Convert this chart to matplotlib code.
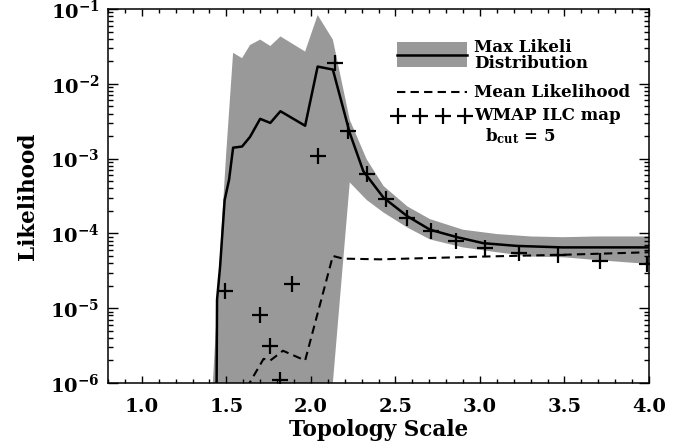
import numpy as np
import matplotlib
matplotlib.use("Agg")
import matplotlib.pyplot as plt
from matplotlib.ticker import MultipleLocator, FuncFormatter, NullFormatter, LogLocator
from matplotlib.patches import Rectangle

plt.rcParams['font.family'] = ['DejaVu Serif']
plt.rcParams['font.weight'] = 'bold'
plt.rcParams['mathtext.fontset'] = 'dejavuserif'

# spread of the max-likelihood distribution (grey band)
band_x = [1.415, 1.44, 1.47, 1.50, 1.54, 1.593, 1.64, 1.70, 1.76, 1.82, 1.966,
          2.04, 2.13, 2.23, 2.33, 2.43, 2.57, 2.705, 2.90, 3.10, 3.30, 3.49, 3.69, 4.0]
band_hi = [6.3e-7, 6.3e-6, 1.0e-4, 1.26e-3, 2.6e-2, 2.2e-2, 3.3e-2, 3.9e-2, 3.2e-2,
           4.3e-2, 2.7e-2, 8.3e-2, 3.9e-2, 3.3e-3, 9.8e-4, 4.3e-4, 2.3e-4, 1.55e-4,
           1.12e-4, 9.8e-5, 9.1e-5, 8.9e-5, 9.1e-5, 9.1e-5]
band_lo = [1e-8, 1e-8, 1e-8, 1e-8, 1e-8, 1e-8, 1e-8, 1e-8, 1e-8, 1e-8, 1e-8,
           1e-8, 1.0e-6, 4.8e-4, 2.8e-4, 1.9e-4, 1.2e-4, 8.3e-5, 6.5e-5, 5.6e-5,
           4.9e-5, 4.8e-5, 4.4e-5, 3.9e-5]

# max likelihood (solid)
max_x = [1.44, 1.445, 1.463, 1.49, 1.516, 1.54, 1.593, 1.64, 1.70, 1.76, 1.82,
         1.966, 2.04, 2.13, 2.23, 2.31, 2.43, 2.57, 2.705, 2.865, 3.02, 3.22, 3.49, 4.0]
max_y = [1e-7, 1.3e-5, 3.6e-5, 2.8e-4, 5.2e-4, 1.4e-3, 1.45e-3, 1.95e-3, 3.4e-3,
         3.0e-3, 4.3e-3, 2.75e-3, 1.7e-2, 1.55e-2, 2.2e-3, 6.8e-4, 3.0e-4, 1.7e-4,
         1.12e-4, 8.9e-5, 7.4e-5, 6.8e-5, 6.5e-5, 6.5e-5]

# mean likelihood (dashed)
mean_x = [1.58, 1.72, 1.76, 1.835, 1.966, 2.13, 2.19, 2.41, 3.02, 3.52, 4.0]
mean_y = [6e-7, 2.1e-6, 2.0e-6, 2.7e-6, 2.0e-6, 5.0e-5, 4.6e-5, 4.5e-5, 4.9e-5, 5.2e-5, 5.6e-5]

# WMAP ILC map, b_cut = 5
wmap_x = [1.49, 1.70, 1.76, 1.82, 1.89, 2.04, 2.14, 2.22, 2.33, 2.445, 2.57,
          2.71, 2.86, 3.03, 3.23, 3.46, 3.71, 3.99]
wmap_y = [1.7e-5, 8e-6, 3.1e-6, 1.1e-6, 2.1e-5, 1.07e-3, 1.9e-2, 2.35e-3, 6.2e-4,
          2.9e-4, 1.6e-4, 1.07e-4, 7.8e-5, 6.3e-5, 5.4e-5, 5.1e-5, 4.3e-5, 3.9e-5]

grey = '#999999'

fig = plt.figure(figsize=(6.83, 4.48), dpi=100)
ax = fig.add_axes((108 / 683, 1 - 383 / 448, 541 / 683, 374 / 448))

ax.fill_between(band_x, band_lo, band_hi, color=grey, lw=0)
ax.plot(max_x, max_y, color='black', lw=1.8)
ax.plot(mean_x, mean_y, color='black', lw=1.5, dashes=(4, 2.5))
ax.plot(wmap_x, wmap_y, ls='none', marker='+', ms=12, mew=1.6, color='black')

ax.set_yscale('log')
ax.set_xlim(0.8, 4.0)
ax.set_ylim(1e-6, 1e-1)

ax.xaxis.set_major_locator(MultipleLocator(0.5))
ax.xaxis.set_minor_locator(MultipleLocator(0.1))
ax.xaxis.set_major_formatter(FuncFormatter(lambda v, p: '%.1f' % v))
ax.yaxis.set_major_locator(LogLocator(base=10))
ax.yaxis.set_minor_locator(LogLocator(base=10, subs=np.arange(2, 10)))
ax.yaxis.set_major_formatter(FuncFormatter(lambda v, p: r'$\mathbf{10^{%d}}$' % round(np.log10(v))))
ax.yaxis.set_minor_formatter(NullFormatter())

ax.tick_params(which='both', direction='in', top=True, right=True, width=1.0)
ax.tick_params(axis='x', which='major', length=5, labelsize=14, pad=11)
ax.tick_params(axis='x', which='minor', length=2.8)
ax.tick_params(axis='y', which='major', length=7, labelsize=14, pad=6)
ax.tick_params(axis='y', which='minor', length=3.6)
for s in ax.spines.values():
    s.set_linewidth(1.1)

ax.set_xlabel('Topology Scale', fontsize=15.5, fontweight='bold', labelpad=2)
ax.set_ylabel('Likelihood', fontsize=15.5, fontweight='bold', labelpad=8)

# legend drawn by hand, IDL style
tr = ax.transAxes
ax.add_patch(Rectangle((0.534, 0.845), 0.130, 0.067, transform=tr, color=grey, lw=0))
ax.plot([0.534, 0.664], [0.878, 0.878], transform=tr, color='black', lw=1.8)
ax.text(0.677, 0.898, 'Max Likeli', transform=tr, fontsize=12, va='center')
ax.text(0.677, 0.855, 'Distribution', transform=tr, fontsize=12, va='center')
ax.plot([0.534, 0.664], [0.778, 0.778], transform=tr, color='black', lw=1.5, dashes=(4, 2.5))
ax.text(0.677, 0.778, 'Mean Likelihood', transform=tr, fontsize=12, va='center')
ax.plot(np.linspace(0.536, 0.660, 4), [0.713] * 4, transform=tr, ls='none',
        marker='+', ms=12, mew=1.6, color='black')
ax.text(0.677, 0.716, 'WMAP ILC map', transform=tr, fontsize=12, va='center')
ax.text(0.697, 0.660, r'$\mathbf{b_{cut}}$ = 5', transform=tr, fontsize=12, va='center')

fig.savefig('out.png', dpi=100)
